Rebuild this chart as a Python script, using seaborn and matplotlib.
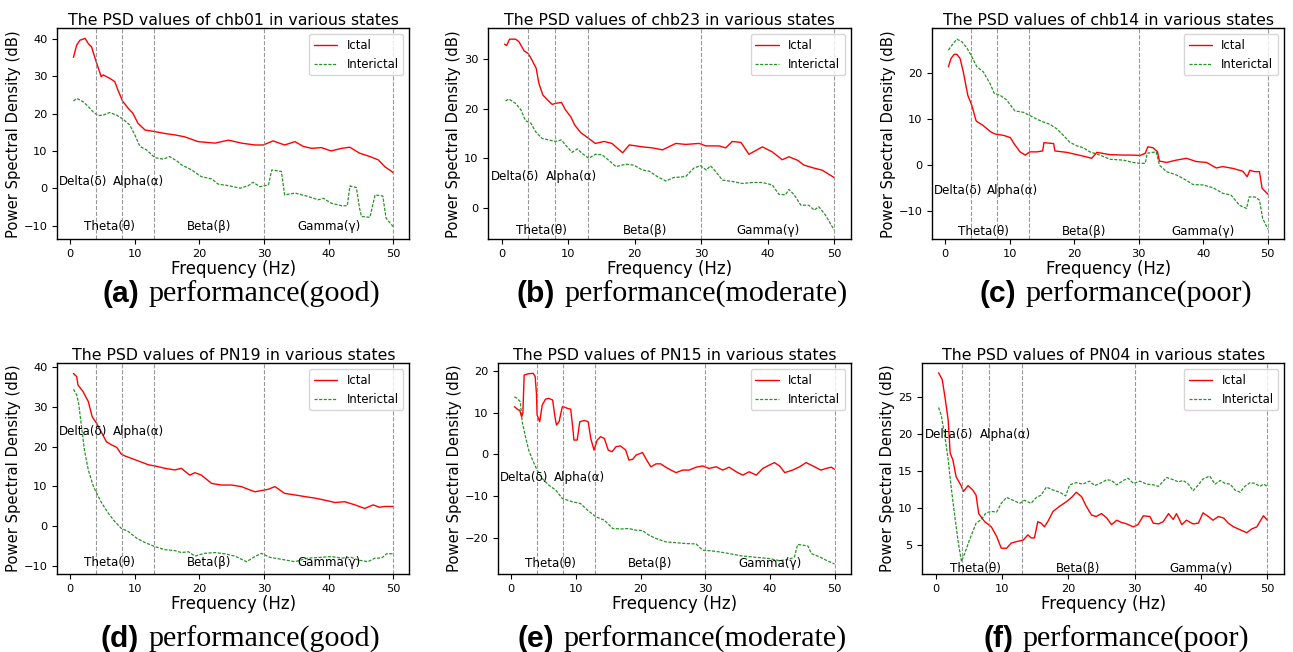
import numpy as np
import pandas as pd
import matplotlib.pyplot as plt
from matplotlib.ticker import MultipleLocator
import seaborn as sns

# (frequency Hz, PSD dB) pairs
a_ictal = [(0.5, 35.1), (1.0, 38.4), (1.5, 39.7), (2.3, 40.2), (2.8, 38.8), (3.3, 37.9), (4.1, 33.5), (4.8, 29.9),
           (5.1, 30.4), (6.1, 29.5), (6.9, 28.6), (7.4, 26.3), (8.1, 23.4), (9.0, 21.4), (9.7, 20.1), (10.5, 17.4),
           (11.6, 15.6), (13.1, 15.2), (14.6, 14.7), (16.2, 14.3), (17.7, 13.8), (19.8, 12.5), (22.4, 12.1),
           (24.5, 12.9), (26.5, 12.1), (28.6, 11.6), (29.9, 11.6), (31.4, 12.7), (33.2, 11.6), (34.8, 12.5),
           (36.1, 11.2), (37.4, 10.7), (38.9, 10.9), (40.4, 10.0), (42.0, 10.7), (43.3, 11.0), (44.8, 9.4),
           (46.4, 8.5), (47.7, 7.6), (48.7, 5.8), (50.0, 4.2)]
a_inter = [(0.5, 23.4), (1.0, 24.1), (2.0, 23.2), (2.8, 21.9), (3.6, 20.4), (4.3, 19.5), (5.1, 19.6), (6.1, 20.3),
           (7.2, 19.6), (8.2, 18.5), (9.2, 17.0), (10.0, 14.3), (10.8, 11.2), (11.8, 10.3), (13.1, 8.2), (14.4, 7.8),
           (15.4, 8.5), (16.7, 7.1), (17.2, 6.3), (18.8, 4.9), (20.3, 3.1), (21.9, 2.5), (22.9, 1.1), (24.5, 0.7),
           (26.3, 0.0), (27.6, 0.7), (28.3, 1.6), (29.4, 0.4), (30.7, 0.9), (31.2, 4.9), (32.0, 4.7), (32.7, 4.5),
           (33.2, -1.8), (34.8, -1.3), (36.8, -2.2), (38.4, -3.1), (39.2, -2.7), (40.4, -4.0), (42.0, -4.7),
           (42.9, -4.7), (43.3, 0.6), (44.3, 0.2), (44.8, -5.4), (45.1, -7.6), (46.4, -7.8), (47.2, -1.8),
           (48.4, -2.1), (48.9, -8.0), (50.0, -10.3)]

b_ictal = [(0.45, 33.1), (0.75, 32.8), (1.2, 34.1), (2.1, 34.1), (2.6, 33.6), (3.4, 31.7), (4.0, 31.2), (4.6, 29.8),
           (5.2, 28.2), (5.6, 25.2), (6.2, 22.8), (6.9, 21.8), (7.6, 20.9), (8.1, 21.1), (9.0, 21.3), (9.6, 19.8),
           (10.4, 18.4), (11.0, 16.7), (11.9, 15.2), (12.9, 14.2), (14.1, 13.0), (15.4, 13.4), (16.6, 13.0),
           (18.2, 11.1), (19.2, 12.7), (21.2, 12.3), (22.7, 12.1), (24.2, 11.7), (26.2, 13.0), (27.7, 12.8),
           (29.7, 13.0), (30.7, 12.5), (32.7, 12.5), (33.7, 12.1), (34.7, 13.4), (36.0, 13.2), (37.2, 10.8),
           (39.2, 12.3), (40.7, 11.3), (42.2, 9.7), (43.2, 10.3), (44.5, 9.6), (45.5, 8.6), (47.0, 8.0),
           (48.2, 7.6), (50.0, 6.1)]
b_inter = [(0.6, 21.6), (1.1, 22.0), (2.1, 21.1), (2.9, 19.8), (3.6, 17.6), (4.4, 17.1), (5.1, 15.4), (6.1, 14.0),
           (7.1, 13.7), (8.1, 13.4), (9.0, 13.7), (9.6, 12.7), (10.6, 11.2), (11.4, 11.9), (12.1, 11.0), (13.1, 10.0),
           (14.1, 10.8), (15.1, 10.7), (16.1, 9.6), (17.2, 8.3), (18.7, 8.8), (19.9, 8.6), (21.2, 7.6), (22.2, 7.4),
           (23.4, 6.3), (24.7, 5.4), (25.9, 6.1), (27.7, 6.3), (28.9, 8.0), (29.9, 8.5), (30.8, 7.6), (31.4, 8.5),
           (32.2, 7.3), (33.2, 5.6), (34.7, 5.3), (36.2, 4.9), (37.7, 5.1), (39.2, 5.1), (40.7, 4.6), (41.7, 2.7),
           (42.7, 2.6), (43.2, 3.7), (44.0, 2.6), (45.0, 0.5), (46.2, 0.5), (47.0, -0.5), (47.7, 0.2),
           (48.7, -1.5), (50.0, -4.5)]

c_ictal = [(0.5, 21.3), (0.9, 23.1), (1.4, 24.0), (1.8, 24.0), (2.3, 23.1), (2.8, 20.2), (3.5, 15.1), (4.1, 13.0),
           (4.8, 9.5), (5.9, 8.5), (7.0, 7.2), (7.5, 6.8), (8.0, 6.6), (9.0, 6.4), (10.1, 5.9), (10.8, 4.3),
           (11.6, 2.8), (12.4, 2.1), (13.1, 2.8), (14.2, 2.8), (15.1, 3.0), (15.3, 4.8), (16.8, 4.6), (17.0, 3.0),
           (18.8, 2.7), (20.4, 2.2), (21.9, 1.7), (22.7, 1.4), (23.5, 2.7), (25.5, 2.2), (27.6, 2.1), (29.1, 2.1),
           (30.2, 2.0), (31.0, 2.5), (31.4, 3.9), (32.2, 3.7), (32.9, 2.8), (33.2, 0.8), (34.3, 0.5), (35.8, 1.0),
           (37.4, 1.4), (38.9, 0.7), (40.5, 0.5), (42.0, -0.7), (43.0, -0.4), (44.6, -0.8), (46.1, -1.4),
           (46.8, -2.6), (47.2, -1.2), (47.9, -1.5), (48.7, -1.5), (49.1, -5.1), (50.0, -6.4)]
c_inter = [(0.5, 24.9), (1.0, 25.9), (1.8, 27.3), (2.6, 26.7), (3.4, 25.3), (4.1, 23.5), (4.9, 21.3), (5.9, 20.2),
           (7.0, 17.5), (7.6, 15.5), (8.5, 15.1), (9.5, 14.1), (10.8, 11.7), (12.1, 11.4), (13.1, 10.7), (14.2, 9.9),
           (15.2, 9.3), (16.2, 8.8), (17.3, 7.8), (18.3, 6.4), (19.3, 4.9), (20.4, 4.1), (21.4, 3.7), (22.4, 2.8),
           (24.0, 2.1), (25.5, 1.2), (27.6, 1.0), (29.1, 0.5), (30.2, 0.3), (31.0, 0.3), (31.3, 2.5), (32.2, 2.7),
           (32.7, 2.8), (33.2, -0.1), (34.3, -1.5), (35.8, -2.2), (36.9, -3.0), (38.4, -4.3), (40.0, -4.4),
           (41.5, -5.0), (43.0, -6.2), (44.3, -6.6), (45.6, -8.8), (46.7, -9.5), (47.1, -7.0), (48.0, -7.0),
           (48.7, -7.7), (49.2, -11.7), (50.0, -14.0)]

d_ictal = [(0.5, 38.4), (1.0, 37.6), (1.2, 35.5), (2.0, 33.8), (2.8, 31.3), (3.4, 27.5), (4.1, 25.8), (4.8, 23.7),
           (5.6, 21.2), (6.4, 20.4), (7.2, 19.8), (7.9, 18.1), (8.5, 17.6), (9.5, 17.0), (10.8, 16.2), (12.1, 15.4),
           (13.1, 15.1), (14.7, 14.5), (16.2, 14.1), (17.2, 14.5), (18.5, 12.8), (19.3, 13.4), (20.3, 12.8),
           (21.9, 10.7), (23.4, 10.3), (25.0, 10.3), (26.5, 9.9), (27.6, 9.2), (28.6, 8.6), (29.6, 8.9),
           (30.6, 9.2), (31.7, 9.9), (33.2, 8.2), (34.8, 7.8), (36.3, 7.4), (37.9, 7.0), (39.4, 6.5), (41.0, 5.9),
           (42.5, 6.1), (44.1, 5.3), (45.6, 4.4), (46.9, 5.3), (47.9, 4.7), (48.7, 4.9), (50.0, 4.9)]
d_inter = [(0.5, 34.4), (1.0, 33.0), (1.3, 30.9), (1.75, 25.0), (2.2, 19.1), (2.8, 14.1), (3.6, 9.9), (4.1, 8.2),
           (4.9, 5.7), (5.9, 3.2), (6.9, 1.1), (7.9, -0.6), (9.0, -1.4), (10.3, -3.1), (11.6, -4.2), (13.1, -5.2),
           (14.7, -6.0), (16.2, -6.2), (17.2, -6.7), (18.3, -6.5), (19.3, -7.6), (20.8, -6.9), (22.4, -6.7),
           (23.9, -7.0), (25.5, -7.6), (27.3, -9.0), (28.6, -7.7), (29.6, -6.9), (30.9, -7.9), (32.7, -8.4),
           (34.8, -9.0), (36.8, -8.1), (38.9, -7.9), (40.4, -7.7), (42.0, -8.1), (43.5, -7.9), (44.6, -8.6),
           (46.1, -9.0), (47.2, -8.1), (48.2, -8.1), (49.0, -7.0), (50.0, -7.0)]

e_ictal = [(0.5, 11.4), (0.8, 11.0), (1.1, 10.6), (1.3, 10.6), (1.6, 9.0), (1.8, 9.8), (2.0, 19.0), (2.7, 19.3),
           (3.4, 19.4), (3.7, 18.6), (3.9, 14.6), (4.0, 9.4), (4.4, 7.8), (4.8, 11.8), (5.3, 13.2), (5.8, 13.4),
           (6.4, 13.0), (6.8, 8.6), (7.0, 7.0), (7.4, 7.8), (7.9, 11.4), (8.2, 11.3), (8.7, 11.0), (9.2, 10.8),
           (9.5, 6.6), (9.7, 3.4), (10.2, 3.4), (10.6, 7.8), (11.3, 8.1), (11.9, 7.8), (12.3, 3.8), (12.8, 1.0),
           (13.3, 3.4), (13.8, 4.2), (14.4, 3.8), (15.0, 1.0), (15.6, 0.6), (16.2, 1.8), (16.9, 2.0), (17.7, 1.0),
           (18.2, -1.4), (18.8, -1.2), (19.3, -0.2), (20.3, 0.4), (21.1, -1.8), (21.6, -3.0), (22.4, -2.3),
           (23.1, -2.3), (23.9, -3.1), (24.7, -3.8), (25.5, -4.4), (26.5, -3.8), (27.5, -3.8), (28.6, -3.1),
           (29.6, -2.8), (30.6, -3.4), (31.7, -3.0), (32.7, -3.8), (33.7, -3.1), (34.8, -4.2), (35.8, -5.0),
           (36.8, -4.2), (37.9, -5.0), (38.9, -3.4), (39.9, -2.6), (40.7, -2.0), (41.5, -2.8), (42.3, -4.4),
           (43.5, -3.8), (44.6, -3.0), (45.6, -2.0), (46.9, -3.0), (47.9, -3.8), (48.7, -3.4), (49.5, -3.1),
           (50.0, -3.6)]
e_inter = [(0.5, 13.8), (0.9, 13.4), (1.4, 12.6), (1.7, 7.8), (2.2, 4.2), (2.7, 1.0), (3.3, -1.4), (4.0, -3.8),
           (4.8, -5.8), (5.8, -7.4), (6.9, -8.6), (7.9, -10.6), (8.7, -11.0), (9.5, -11.4), (10.7, -11.8),
           (11.8, -13.4), (13.1, -15.0), (14.4, -15.8), (15.7, -17.8), (17.0, -17.9), (18.2, -17.8), (19.3, -18.2),
           (20.3, -18.3), (21.3, -19.4), (22.4, -20.2), (23.9, -21.0), (25.5, -21.2), (27.0, -21.4), (28.6, -21.5),
           (29.6, -23.0), (30.6, -23.1), (32.2, -23.4), (33.7, -23.8), (35.8, -24.4), (37.9, -24.7), (39.9, -25.0),
           (41.5, -25.5), (43.0, -25.2), (43.8, -24.6), (44.3, -21.6), (45.1, -21.8), (45.9, -22.0), (46.4, -23.8),
           (47.7, -24.6), (48.7, -25.4), (50.0, -26.3)]

f_ictal = [(0.45, 28.3), (1.0, 27.4), (1.4, 25.1), (1.9, 21.9), (2.2, 17.4), (2.6, 16.5), (3.1, 14.2), (3.9, 12.9),
           (4.2, 12.2), (4.9, 13.0), (5.6, 12.4), (6.1, 11.7), (6.5, 9.2), (7.4, 8.1), (8.4, 7.4), (9.2, 6.1),
           (9.9, 4.5), (10.7, 4.5), (11.4, 5.2), (12.2, 5.4), (13.2, 5.6), (13.9, 6.3), (14.4, 5.9), (14.9, 5.9),
           (15.4, 8.1), (15.9, 7.9), (16.4, 7.4), (16.9, 8.1), (17.7, 9.5), (18.7, 10.2), (19.7, 10.8), (20.5, 11.4),
           (21.2, 12.1), (22.0, 11.5), (22.7, 10.2), (23.5, 9.0), (24.2, 8.8), (25.0, 9.2), (25.8, 8.6), (26.5, 7.7),
           (27.3, 8.3), (28.0, 8.0), (28.8, 7.8), (29.8, 7.4), (30.5, 7.7), (31.3, 8.9), (32.3, 8.8), (32.8, 7.9),
           (33.6, 7.8), (34.3, 8.1), (35.1, 9.2), (35.8, 8.4), (36.3, 9.2), (37.1, 7.7), (37.8, 8.3), (38.8, 7.8),
           (39.6, 7.9), (40.3, 9.3), (41.1, 8.8), (41.8, 8.3), (42.6, 8.8), (43.4, 8.6), (44.1, 7.9), (44.9, 7.4),
           (45.9, 7.0), (46.9, 6.6), (47.6, 7.1), (48.4, 7.4), (49.4, 8.9), (50.0, 8.3)]
f_inter = [(0.45, 23.6), (0.85, 22.6), (1.4, 19.7), (1.9, 16.5), (2.4, 12.4), (2.9, 8.8), (3.4, 5.4), (3.9, 2.7),
           (4.4, 3.8), (5.1, 5.6), (6.1, 7.9), (6.9, 8.4), (7.6, 9.3), (8.4, 9.5), (9.2, 9.4), (9.9, 10.6),
           (10.7, 11.4), (11.7, 11.0), (12.7, 10.6), (13.4, 11.0), (14.4, 10.6), (15.2, 11.4), (15.9, 11.7),
           (16.7, 12.8), (17.7, 12.4), (18.7, 12.1), (19.6, 11.6), (20.2, 13.1), (21.2, 13.4), (22.2, 13.2),
           (23.2, 13.6), (24.0, 13.0), (25.0, 13.4), (25.8, 13.8), (26.5, 13.7), (27.3, 13.1), (28.3, 13.7),
           (29.0, 14.0), (29.8, 13.3), (30.8, 13.6), (31.8, 13.2), (32.8, 13.1), (33.6, 12.9), (34.3, 13.6),
           (34.8, 14.1), (35.8, 13.8), (36.6, 13.5), (37.3, 13.7), (38.1, 13.2), (38.8, 12.3), (39.6, 13.1),
           (40.3, 13.9), (41.3, 14.3), (42.1, 13.2), (42.9, 13.7), (43.6, 13.3), (44.4, 13.2), (45.1, 12.4),
           (45.9, 12.1), (46.6, 12.9), (47.4, 13.4), (48.1, 13.3), (48.9, 12.9), (49.4, 13.2), (50.0, 12.9)]

subjects = ['chb01', 'chb23', 'chb14', 'PN19', 'PN15', 'PN04']
letters = ['a', 'b', 'c', 'd', 'e', 'f']
ratings = ['good', 'moderate', 'poor', 'good', 'moderate', 'poor']
band_edges = [4, 8, 13, 30, 50]
upper_bands = [('Delta(δ)', 2), ('Alpha(α)', 10.5)]
lower_bands = [('Theta(θ)', 6), ('Beta(β)', 21.5), ('Gamma(γ)', 40)]

series = [(a_ictal, a_inter), (b_ictal, b_inter), (c_ictal, c_inter),
          (d_ictal, d_inter), (e_ictal, e_inter), (f_ictal, f_inter)]

# layout in pixels: left, right, top, bottom of each axes
W, H = 1293, 652
boxes = [(57.3, 409.3, 28.3, 239.3), (488.3, 850.7, 28.3, 239.3), (932.3, 1284, 28.3, 239.3),
         (57.3, 409.3, 363.3, 574), (498.3, 850.7, 363.3, 574), (922.3, 1284, 363.3, 574)]
ylims = [(-13.7, 42.9), (-6.4, 36.3), (-16.2, 29.65), (-12.1, 40.95), (-28.7, 21.8), (1.0, 29.6)]
ystep = [10, 10, 10, 10, 10, 5]
label_y = [(1.8, -10.3), (6.3, -4.7), (-5.5, -14.6), (23.7, -9.2), (-5.5, -26.3), (19.9, 1.8)]
caption_split = [143, 559, 1020, 143, 558, 1017]
caption_base = [302, 302, 302, 647, 647, 647]

sns.set_style('ticks')
plt.rcParams['font.family'] = ['DejaVu Sans']
plt.rcParams['text.color'] = 'black'
plt.rcParams['axes.labelcolor'] = 'black'

fig = plt.figure(figsize=(W / 100, H / 100), dpi=100)

for i in range(6):
    l, r, t, b = boxes[i]
    ax = fig.add_axes([l / W, 1 - b / H, (r - l) / W, (b - t) / H])
    ictal = pd.DataFrame(series[i][0], columns=['freq', 'psd'])
    inter = pd.DataFrame(series[i][1], columns=['freq', 'psd'])
    sns.lineplot(data=ictal, x='freq', y='psd', ax=ax, color='red', linewidth=1.0, label='Ictal')
    sns.lineplot(data=inter, x='freq', y='psd', ax=ax, color='green', linewidth=0.9,
                 linestyle=(0, (2.5, 1.2)), alpha=0.85, label='Interictal')
    for e in band_edges:
        ax.axvline(e, color='gray', linestyle='--', linewidth=0.8, alpha=0.8)
    for name, x in upper_bands:
        ax.text(x, label_y[i][0], name, ha='center', va='center', fontsize=8.6)
    for name, x in lower_bands:
        ax.text(x, label_y[i][1], name, ha='center', va='center', fontsize=8.6)
    ax.set_xlim(-2.0, 52.5)
    ax.set_ylim(*ylims[i])
    ax.set_xticks([0, 10, 20, 30, 40, 50])
    ax.yaxis.set_major_locator(MultipleLocator(ystep[i]))
    ax.tick_params(labelsize=8.2, length=3.5, width=0.8, colors='black')
    for s in ax.spines.values():
        s.set_color('black')
        s.set_linewidth(1.0)
    ax.set_title(f'The PSD values of {subjects[i]} in various states', fontsize=11.3, pad=2)
    ax.set_xlabel('Frequency (Hz)', fontsize=12, labelpad=1)
    ax.set_ylabel('Power Spectral Density (dB)', fontsize=10.6, labelpad=2)
    ax.legend(loc='upper right', fontsize=8.4)

    yb = 1 - caption_base[i] / H
    fig.text((caption_split[i] - 4) / W, yb, f'({letters[i]})', ha='right', va='baseline',
             fontsize=21.6, fontweight='bold', family='Liberation Sans')
    fig.text((caption_split[i] + 5) / W, yb, f'performance({ratings[i]})', ha='left', va='baseline',
             fontsize=21.6, family='Liberation Serif')

fig.savefig('out.png', dpi=100)
